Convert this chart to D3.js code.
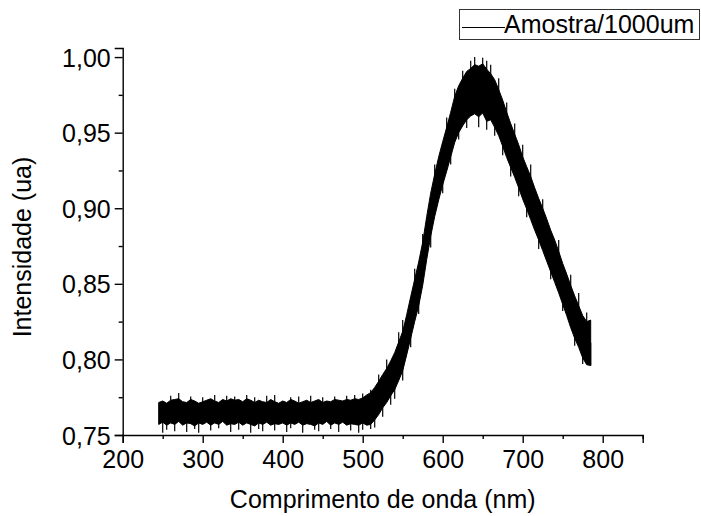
<!DOCTYPE html>
<html>
<head>
<meta charset="utf-8">
<script src="https://cdn.jsdelivr.net/npm/d3@7"></script>
<style>
  body { margin: 0; background: #fff; }
  text { font-family: "Liberation Sans", Arial, sans-serif; fill: #000; }
</style>
</head>
<body>
<script>
var wavelength = [
  245,250,255,260,265,270,275,280,285,290,295,300,305,310,315,320,325,330,335,340,
  345,350,355,360,365,370,375,380,385,390,395,400,405,410,415,420,425,430,435,440,
  445,450,455,460,465,470,475,480,485,490,495,500,505,510,515,520,525,530,535,540,
  545,550,555,560,565,570,575,580,585,590,595,600,605,610,615,620,625,630,635,640,
  645,650,655,660,665,670,675,680,685,690,695,700,705,710,715,720,725,730,735,740,
  745,750,755,760,765,770,775,780,785
];
var upper = [
  .7715,.7725,.7710,.7730,.7735,.7740,.7720,.7715,.7735,.7725,
  .7710,.7720,.7730,.7740,.7725,.7715,.7735,.7725,.7740,.7730,
  .7735,.7720,.7740,.7730,.7715,.7730,.7720,.7715,.7735,.7720,
  .7710,.7725,.7715,.7735,.7725,.7710,.7720,.7730,.7715,.7725,
  .7735,.7715,.7725,.7720,.7735,.7730,.7725,.7735,.7730,.7740,
  .7735,.7745,
  .7765,.7780,.7815,.7855,.7900,.7940,.7990,.8045,.8115,.8185,
  .8295,.8415,.8530,.8645,.8775,.8945,.9100,.9225,.9340,.9440,
  .9535,.9635,.9740,.9810,.9860,.9905,.9925,.9950,.9940,.9955,
  .9920,.9890,.9850,.9785,.9715,.9635,.9560,.9490,.9420,.9340,
  .9275,.9210,.9135,.9065,.9000,.8930,.8855,.8790,.8715,.8635,
  .8565,.8490,.8420,.8355,.8290,.8250,.8260
];
var lower = [
  .7570,.7585,.7565,.7580,.7570,.7590,.7565,.7580,.7575,.7560,
  .7580,.7570,.7585,.7565,.7580,.7570,.7590,.7565,.7575,.7570,
  .7585,.7565,.7580,.7570,.7560,.7580,.7570,.7585,.7565,.7575,
  .7570,.7580,.7565,.7580,.7570,.7585,.7565,.7575,.7570,.7560,
  .7580,.7570,.7590,.7565,.7580,.7570,.7585,.7565,.7575,.7570,
  .7565,.7580,
  .7565,.7570,.7600,.7635,.7680,.7715,.7760,.7800,.7860,.7925,
  .8030,.8140,.8250,.8355,.8490,.8660,.8815,.8945,.9055,.9155,
  .9245,.9340,.9435,.9500,.9545,.9585,.9610,.9625,.9605,.9630,
  .9575,.9585,.9535,.9480,.9410,.9335,.9270,.9205,.9135,.9060,
  .8995,.8925,.8855,.8790,.8720,.8650,.8580,.8510,.8440,.8365,
  .8290,.8210,.8140,.8080,.8010,.7965,.7960
];
// isolated noise spikes poking out of the band
var spikeUpNm  = [260,270,285,300,315,330,340,355,365,380,390,410,420,435,450,465,480,490,500,
                  510,520,530,545,550,565,575,590,605,615,625,635,640,650,655,660,670,
                  680,690,700,710,725,745,760,770,780];
var spikeUpVal = [.7760,.7778,.7755,.7750,.7765,.7760,.7755,.7765,.7750,.7760,.7765,.7750,.7755,.7760,.7750,.7755,.7760,.7765,.7775,
                  .7800,.7900,.8000,.8180,.8260,.8600,.8830,.9290,.9600,.9790,.9910,.9975,1.0000,.9995,.9975,.9950,.9860,
                  .9700,.9560,.9420,.9290,.9060,.8790,.8560,.8440,.8310];
var spikeDnNm  = [250,255,265,280,290,295,310,320,335,345,360,370,375,390,405,410,425,440,445,460,470,485,495,500,
                  510,515,525,535,540,550,560,570,585,600,610,620,630,645,655,665,675,
                  685,695,705,720,735,750,765,775,785];
var spikeDnVal = [.7515,.7535,.7525,.7520,.7540,.7515,.7530,.7545,.7520,.7535,.7515,.7540,.7525,.7530,.7520,.7545,.7515,.7535,.7525,.7540,.7520,.7530,.7515,.7535,
                  .7540,.7550,.7620,.7700,.7740,.7860,.8080,.8300,.8740,.9100,.9290,.9455,.9530,.9535,.9520,.9480,.9350,
                  .9210,.9080,.8940,.8730,.8530,.8320,.8090,.7970,.7960];
var xTicks = [200,300,400,500,600,700,800];
var xMinor = [250,350,450,550,650,750,850];
var yTicks = [0.75,0.80,0.85,0.90,0.95,1.00];
var yMinor = [0.775,0.825,0.875,0.925,0.975];
var seriesName = "Amostra/1000um";

var W = 701, H = 516;
var svg = d3.select("body").append("svg")
    .attr("width", W)
    .attr("height", H);

var x = d3.scaleLinear().domain([200, 850]).range([122.7, 642.7]);
var y = d3.scaleLinear().domain([0.75, 1.006]).range([435, 48]);

var fmt = function(d) { return d3.format(".2f")(d).replace(".", ","); };

var data = wavelength.map(function(w, i) { return [w, upper[i], lower[i]]; });
var mid = function(nm) {
  var i = wavelength.indexOf(nm);
  return (upper[i] + lower[i]) / 2;
};

// trace band
var area = d3.area()
    .x(function(d) { return x(d[0]); })
    .y0(function(d) { return y(d[2]); })
    .y1(function(d) { return y(d[1]); });

svg.append("path")
    .attr("d", area(data))
    .attr("fill", "#000")
    .attr("stroke", "#000")
    .attr("stroke-width", 1);

// spikes
var spikes = spikeUpNm.map(function(n, i) { return [n, spikeUpVal[i]]; })
    .concat(spikeDnNm.map(function(n, i) { return [n, spikeDnVal[i]]; }));

svg.append("g").selectAll("line")
    .data(spikes)
    .enter().append("line")
    .attr("x1", function(d) { return x(d[0]); })
    .attr("x2", function(d) { return x(d[0]); })
    .attr("y1", function(d) { return y(mid(d[0])); })
    .attr("y2", function(d) { return y(d[1]); })
    .attr("stroke", "#000")
    .attr("stroke-width", 1.2);

// axis-x
var gx = svg.append("g").attr("transform", "translate(0,435)");
gx.call(d3.axisBottom(x).tickValues(xTicks).tickSize(8).tickFormat(d3.format("d")));
gx.append("g").call(d3.axisBottom(x).tickValues(xMinor).tickSize(4).tickFormat(""))
  .select(".domain").remove();
gx.selectAll("path, line").attr("stroke", "#000").attr("stroke-width", 1.4);
gx.selectAll("text")
    .attr("y", 33).attr("dy", 0)
    .style("font-size", "25px");

// axis-y
var gy = svg.append("g").attr("transform", "translate(122.7,0)");
gy.call(d3.axisLeft(y).tickValues(yTicks).tickSize(8).tickFormat(fmt));
gy.append("g").call(d3.axisLeft(y).tickValues(yMinor).tickSize(4).tickFormat(""))
  .select(".domain").remove();
gy.selectAll("path, line").attr("stroke", "#000").attr("stroke-width", 1.4);
gy.selectAll("text")
    .attr("x", -12).attr("dy", "0.36em")
    .style("font-size", "25px");

// axis titles
svg.append("text")
    .attr("x", (x.range()[0] + x.range()[1]) / 2)
    .attr("y", 508)
    .attr("text-anchor", "middle")
    .style("font-size", "25px")
    .text("Comprimento de onda (nm)");

svg.append("text")
    .attr("transform", "translate(31,247) rotate(-90)")
    .attr("text-anchor", "middle")
    .style("font-size", "25px")
    .text("Intensidade (ua)");

// legend
var lg = svg.append("g");
lg.append("rect")
    .attr("x", 459.5).attr("y", 9.5)
    .attr("width", 240).attr("height", 30)
    .attr("fill", "none").attr("stroke", "#333").attr("stroke-width", 1);
lg.append("line")
    .attr("x1", 462).attr("x2", 505)
    .attr("y1", 27.5).attr("y2", 27.5)
    .attr("stroke", "#000").attr("stroke-width", 1);
lg.append("text")
    .attr("x", 504).attr("y", 33)
    .style("font-size", "25px")
    .text(seriesName);
</script>
</body>
</html>
